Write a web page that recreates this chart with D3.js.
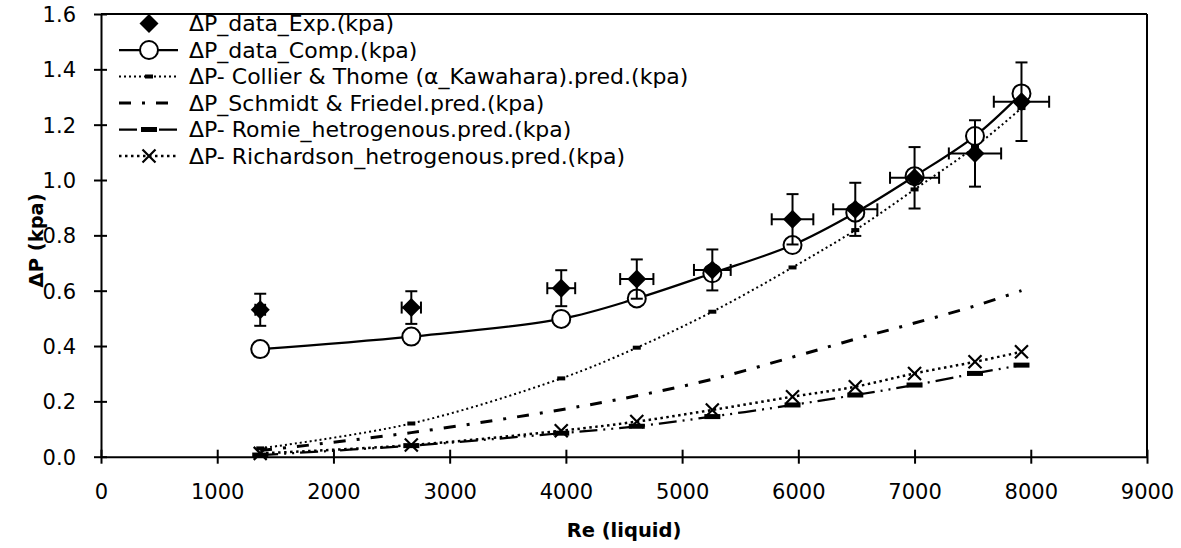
<!DOCTYPE html>
<html>
<head>
<meta charset="utf-8">
<script src="https://cdn.jsdelivr.net/npm/d3@7"></script>
<style>
  html, body { margin: 0; padding: 0; background: #fff; }
  svg { display: block; }
  text { font-family: "DejaVu Sans", sans-serif; fill: #000; }
</style>
</head>
<body>
<svg id="chart" width="1181" height="548"></svg>
<script>
// ---- data ----
const re        = [1370, 2670, 3960, 4610, 5260, 5950, 6490, 7000, 7520, 7920];
const expDP     = [0.531, 0.539, 0.609, 0.642, 0.675, 0.858, 0.894, 1.008, 1.096, 1.283];
const expErrY   = [0.058, 0.059, 0.065, 0.071, 0.074, 0.091, 0.096, 0.111, 0.120, 0.142];
const expErrX   = [42, 83, 120, 143, 158, 179, 190, 211, 225, 238];
const compDP    = [0.389, 0.434, 0.498, 0.572, 0.663, 0.765, 0.882, 1.014, 1.159, 1.313];
const collierDP = [0.030, 0.120, 0.283, 0.394, 0.524, 0.684, 0.819, 0.966, 1.120, 1.260];
const schmidtDP = [0.022, 0.087, 0.170, 0.220, 0.280, 0.360, 0.425, 0.483, 0.545, 0.600];
const romieDP   = [0.006, 0.040, 0.085, 0.110, 0.145, 0.187, 0.223, 0.259, 0.301, 0.331];
const richDP    = [0.012, 0.042, 0.094, 0.127, 0.169, 0.217, 0.253, 0.301, 0.343, 0.379];

const xTicks = [0, 1000, 2000, 3000, 4000, 5000, 6000, 7000, 8000, 9000];
const yTicks = [0, 0.2, 0.4, 0.6, 0.8, 1.0, 1.2, 1.4, 1.6];

const legendLabels = [
  "ΔP_data_Exp.(kpa)",
  "ΔP_data_Comp.(kpa)",
  "ΔP- Collier & Thome (α_Kawahara).pred.(kpa)",
  "ΔP_Schmidt & Friedel.pred.(kpa)",
  "ΔP- Romie_hetrogenous.pred.(kpa)",
  "ΔP- Richardson_hetrogenous.pred.(kpa)"
];
const xTitle = "Re (liquid)";
const yTitle = "ΔP (kpa)";

// ---- layout ----
const svg = d3.select("#chart");
const L = 101, R = 1147, T = 14, B = 456.7;
const x = d3.scaleLinear().domain([0, 9000]).range([L, R]);
const y = d3.scaleLinear().domain([0, 1.6]).range([B, T]);
const curve = d3.curveCatmullRom.alpha(0.5);

const pts = arr => re.map((r, i) => [r, arr[i]]);
const line = d3.line().x(d => x(d[0])).y(d => y(d[1])).curve(curve);

// frame top & right
svg.append("line").attr("x1", L).attr("x2", R).attr("y1", T).attr("y2", T)
  .attr("stroke", "#000").attr("stroke-width", 2);
svg.append("line").attr("x1", R).attr("x2", R).attr("y1", T).attr("y2", B)
  .attr("stroke", "#000").attr("stroke-width", 2);

// axes
const xAxis = d3.axisBottom(x).tickValues(xTicks).tickFormat(d3.format("d")).tickSizeInner(7).tickSizeOuter(0);
const gx = svg.append("g").attr("transform", `translate(0,${B})`).call(xAxis);
gx.select(".domain").attr("stroke", "#000").attr("stroke-width", 2);
gx.selectAll(".tick line").attr("stroke", "#000").attr("stroke-width", 2).attr("y1", -7).attr("y2", 7);
gx.selectAll(".tick text").attr("y", 0).attr("dy", null).attr("transform", "translate(0,42.5)")
  .style("font-size", "21px").style("font-family", "DejaVu Sans");

const yAxis = d3.axisLeft(y).tickValues(yTicks).tickFormat(d3.format(".1f")).tickSizeInner(7).tickSizeOuter(0);
const gy = svg.append("g").attr("transform", `translate(${L},0)`).call(yAxis);
gy.select(".domain").attr("stroke", "#000").attr("stroke-width", 2);
gy.selectAll(".tick line").attr("stroke", "#000").attr("stroke-width", 2).attr("x1", -7).attr("x2", 6);
gy.selectAll(".tick text").attr("x", -25).attr("dy", "0.36em")
  .style("font-size", "21px").style("font-family", "DejaVu Sans");

// axis titles
svg.append("text").attr("x", (L + R) / 2 + 0).attr("y", 537).attr("text-anchor", "middle")
  .style("font-size", "19.5px").style("font-weight", "bold").text(xTitle);
svg.append("text").attr("transform", `translate(43,${(T + B) / 2 + 5}) rotate(-90)`).attr("text-anchor", "middle")
  .style("font-size", "19.5px").style("font-weight", "bold").text(yTitle);

const plot = svg.append("g");

// style definitions per series
const styles = {
  collier: { dash: "2,3", width: 2 },
  schmidt: { dash: "12,11,3,11", width: 3 },
  romie:   { dash: "18,6,2,6,2,6", width: 2.25 },
  rich:    { dash: "2.5,3.5", width: 2.5 },
  comp:    { dash: null, width: 2.25 }
};

function drawLine(g, data, st) {
  g.append("path").datum(data).attr("d", line).attr("fill", "none")
    .attr("stroke", "#000").attr("stroke-width", st.width)
    .attr("stroke-dasharray", st.dash);
}

drawLine(plot, pts(schmidtDP), styles.schmidt);
drawLine(plot, pts(romieDP), styles.romie);
drawLine(plot, pts(richDP), styles.rich);
drawLine(plot, pts(collierDP), styles.collier);

// marker helpers
function romieMarker(g, cx, cy) {
  g.append("rect").attr("x", cx - 8).attr("y", cy - 2.5).attr("width", 16).attr("height", 5).attr("fill", "#000");
}
function collierMarker(g, cx, cy) {
  g.append("rect").attr("x", cx - 4).attr("y", cy - 2).attr("width", 8).attr("height", 4).attr("fill", "#000");
}
function xMarker(g, cx, cy) {
  const s = 6.5;
  g.append("path").attr("d", `M${cx - s},${cy - s}L${cx + s},${cy + s}M${cx - s},${cy + s}L${cx + s},${cy - s}`)
    .attr("stroke", "#000").attr("stroke-width", 2.2).attr("fill", "none");
}
function circleMarker(g, cx, cy) {
  g.append("circle").attr("cx", cx).attr("cy", cy).attr("r", 9)
    .attr("fill", "#fff").attr("stroke", "#000").attr("stroke-width", 2);
}
function diamondMarker(g, cx, cy) {
  const s = 9.5;
  g.append("path").attr("d", `M${cx},${cy - s}L${cx + s},${cy}L${cx},${cy + s}L${cx - s},${cy}Z`).attr("fill", "#000");
}

pts(romieDP).forEach(d => romieMarker(plot, x(d[0]), y(d[1])));
pts(richDP).forEach(d => xMarker(plot, x(d[0]), y(d[1])));
pts(collierDP).forEach(d => collierMarker(plot, x(d[0]), y(d[1])));

// comp line + circles
drawLine(plot, pts(compDP), styles.comp);
pts(compDP).forEach(d => circleMarker(plot, x(d[0]), y(d[1])));

// exp error bars + diamonds
const cap = 6;
re.forEach((r, i) => {
  const cx = x(r), cy = y(expDP[i]);
  const y1 = y(expDP[i] + expErrY[i]), y2 = y(expDP[i] - expErrY[i]);
  const x1 = x(r - expErrX[i]), x2 = x(r + expErrX[i]);
  const g = plot.append("g").attr("stroke", "#000").attr("stroke-width", 2);
  g.append("line").attr("x1", cx).attr("x2", cx).attr("y1", y1).attr("y2", y2);
  g.append("line").attr("x1", cx - cap).attr("x2", cx + cap).attr("y1", y1).attr("y2", y1);
  g.append("line").attr("x1", cx - cap).attr("x2", cx + cap).attr("y1", y2).attr("y2", y2);
  g.append("line").attr("x1", x1).attr("x2", x2).attr("y1", cy).attr("y2", cy);
  g.append("line").attr("x1", x1).attr("x2", x1).attr("y1", cy - cap).attr("y2", cy + cap);
  g.append("line").attr("x1", x2).attr("x2", x2).attr("y1", cy - cap).attr("y2", cy + cap);
});
pts(expDP).forEach(d => diamondMarker(plot, x(d[0]), y(d[1])));

// legend
const leg = svg.append("g");
const lx1 = 119, lx2 = 178, lmx = 149, ltx = 189;
const rowY = i => 23.5 + i * 26.5;
legendLabels.forEach((lab, i) => {
  const cy = rowY(i);
  const st = [null, styles.comp, styles.collier, styles.schmidt, styles.romie, styles.rich][i];
  if (st) {
    leg.append("line").attr("x1", lx1).attr("x2", lx2).attr("y1", cy).attr("y2", cy)
      .attr("stroke", "#000").attr("stroke-width", st.width).attr("stroke-dasharray", st.dash);
  }
  if (i === 0) diamondMarker(leg, lmx, cy);
  if (i === 1) circleMarker(leg, lmx, cy);
  if (i === 2) collierMarker(leg, lmx, cy);
  if (i === 4) romieMarker(leg, lmx, cy);
  if (i === 5) xMarker(leg, lmx, cy);
  leg.append("text").attr("x", ltx).attr("y", cy).attr("dy", "0.36em")
    .style("font-size", "22px").text(lab);
});
</script>
</body>
</html>
